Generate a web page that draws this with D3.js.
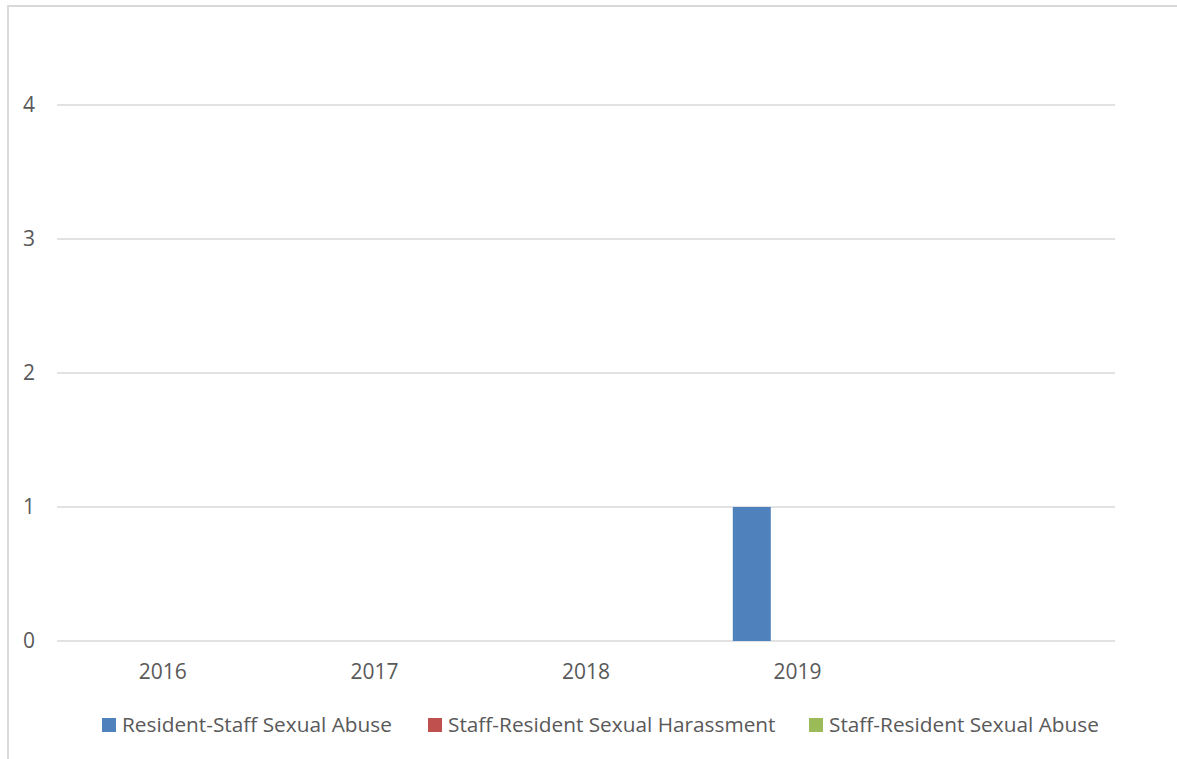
<!DOCTYPE html>
<html>
<head>
<meta charset="utf-8">
<script src="https://cdn.jsdelivr.net/npm/d3@7"></script>
<style>
    body { margin: 0; background: #fff; }
    svg { display: block; }
    text { font-family: "Open Sans", "Noto Sans", sans-serif; fill: #595959; }
</style>
</head>
<body>
<div id="chart"></div>
<script>
// chart data
const categories = ['2016', '2017', '2018', '2019', ''];
const seriesNames = [
    'Resident-Staff Sexual Abuse',
    'Staff-Resident Sexual Harassment',
    'Staff-Resident Sexual Abuse'
];
const residentStaffAbuse = [0, 0, 0, 1, 0];
const staffResidentHarassment = [0, 0, 0, 0, 0];
const staffResidentAbuse = [0, 0, 0, 0, 0];
const yTicks = [0, 1, 2, 3, 4];

const seriesValues = [residentStaffAbuse, staffResidentHarassment, staffResidentAbuse];
const colors = ['#4F81BD', '#C0504D', '#9BBB59'];

const width = 1177;
const height = 759;
const plot = { left: 57, right: 1115, top: 105, bottom: 641 };

const svg = d3.select('#chart')
    .append('svg')
    .attr('width', width)
    .attr('height', height);

// outer chart frame (runs off the right/bottom edge)
svg.append('rect')
    .attr('x', 8)
    .attr('y', 6)
    .attr('width', 1300)
    .attr('height', 900)
    .attr('fill', 'none')
    .attr('stroke', '#D9D9D9')
    .attr('stroke-width', 2);

const x0 = d3.scaleBand()
    .domain(categories.map((d, i) => i))
    .range([plot.left, plot.right])
    .paddingInner(0)
    .paddingOuter(0);

const x1 = d3.scaleBand()
    .domain(seriesNames)
    .range([0, x0.bandwidth()])
    .paddingInner(0)
    .paddingOuter(1.284)
    .align(0.42);

const y = d3.scaleLinear()
    .domain([0, 4])
    .range([plot.bottom, plot.top]);

// gridlines
svg.append('g')
    .selectAll('line')
    .data(yTicks)
    .enter()
    .append('line')
    .attr('x1', plot.left)
    .attr('x2', plot.right)
    .attr('y1', d => y(d))
    .attr('y2', d => y(d))
    .attr('stroke', '#D9D9D9')
    .attr('stroke-width', 1.5);

// y labels
svg.append('g')
    .selectAll('text')
    .data(yTicks)
    .enter()
    .append('text')
    .attr('x', 35)
    .attr('y', d => y(d))
    .attr('dy', '0.35em')
    .attr('text-anchor', 'end')
    .style('font-size', '21px')
    .text(d => d);

// bars
const rows = [];
seriesNames.forEach(function(name, s) {
    seriesValues[s].forEach(function(v, i) {
        rows.push({ name: name, i: i, value: v, color: colors[s] });
    });
});

svg.append('g')
    .selectAll('rect')
    .data(rows.filter(d => d.value > 0))
    .enter()
    .append('rect')
    .attr('x', d => x0(d.i) + x1(d.name))
    .attr('width', x1.bandwidth())
    .attr('y', d => y(d.value))
    .attr('height', d => y(0) - y(d.value))
    .attr('fill', d => d.color);

// x labels
svg.append('g')
    .selectAll('text')
    .data(categories.map((c, i) => ({ c: c, i: i })))
    .enter()
    .append('text')
    .attr('x', d => x0(d.i) + x0.bandwidth() / 2)
    .attr('y', 672)
    .attr('dy', '0.35em')
    .attr('text-anchor', 'middle')
    .style('font-size', '21px')
    .text(d => d.c);

// legend
const legendX = [102, 428, 809];
const legend = svg.append('g')
    .selectAll('g')
    .data(seriesNames)
    .enter()
    .append('g')
    .attr('transform', (d, i) => `translate(${legendX[i]},725)`);

legend.append('rect')
    .attr('x', 0)
    .attr('y', -7)
    .attr('width', 14)
    .attr('height', 14)
    .attr('fill', (d, i) => colors[i]);

legend.append('text')
    .attr('x', 20)
    .attr('y', 0)
    .attr('dy', '0.35em')
    .style('font-size', '20.8px')
    .text(d => d);
</script>
</body>
</html>
